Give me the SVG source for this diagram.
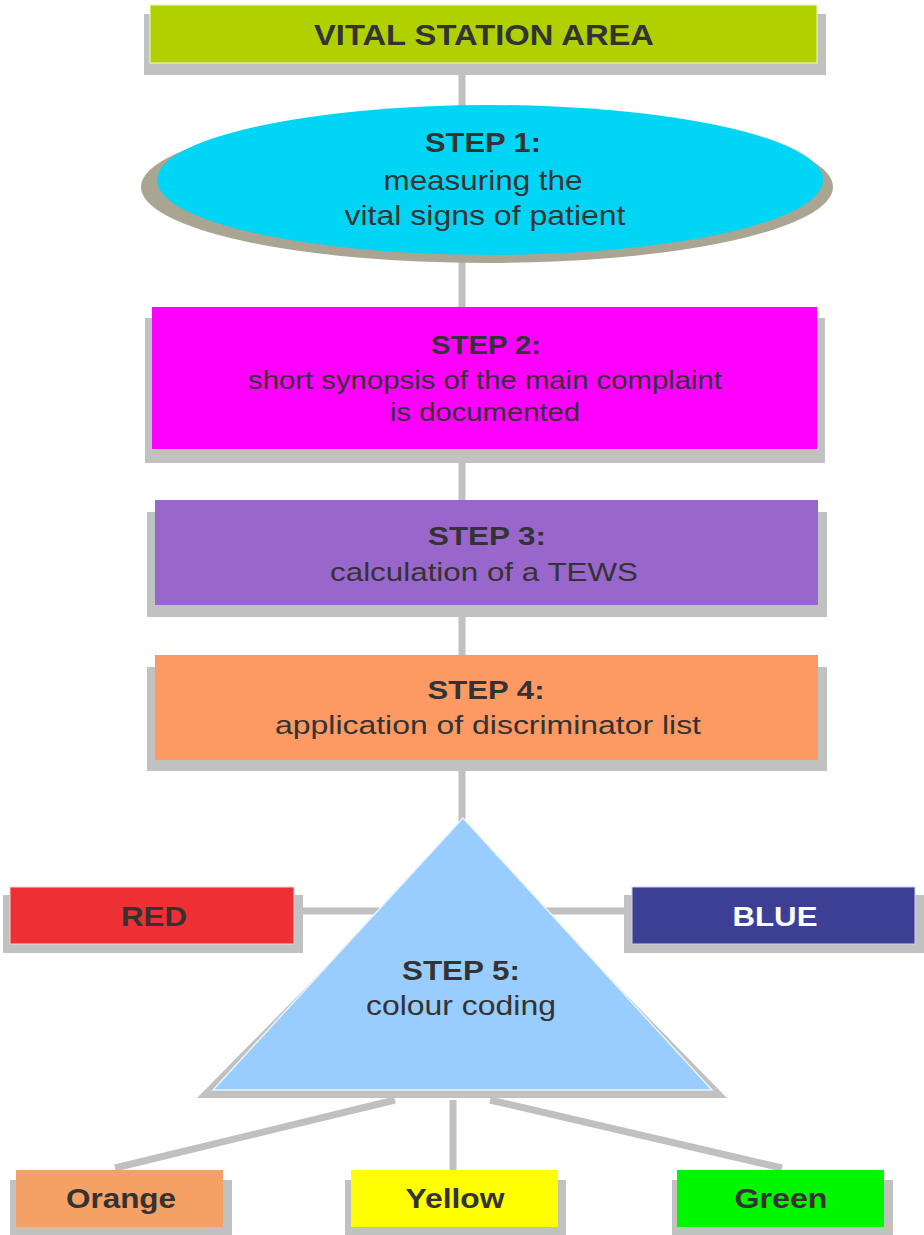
<svg xmlns="http://www.w3.org/2000/svg" width="924" height="1235" viewBox="0 0 924 1235">
<style>
.sh{fill:#c0c2c2}
.t{font-family:"Liberation Sans",Arial,sans-serif;fill:#333333;text-anchor:middle}
.b{font-weight:bold}
.c{stroke:#c0c0c0;stroke-width:7;fill:none}
</style>
<rect width="924" height="1235" fill="#ffffff"/>
<g id="connectors">
<line class="c" x1="462" y1="60" x2="462" y2="830"/>
<line class="c" x1="296" y1="911" x2="390" y2="911"/>
<line class="c" x1="535" y1="911" x2="632" y2="911"/>
<line class="c" x1="395" y1="1100" x2="115" y2="1168" stroke-width="8"/>
<line class="c" x1="453" y1="1100" x2="453" y2="1170"/>
<line class="c" x1="490" y1="1100" x2="782" y2="1168" stroke-width="8"/>
</g>
<g id="vital-station">
<rect class="sh" x="144" y="14" width="682" height="61"/>
<rect x="150" y="5" width="667" height="58" fill="#b1d000" stroke="#f4f8d0" stroke-width="1"/>
<text class="t b" x="484" y="45" font-size="30" textLength="340" lengthAdjust="spacingAndGlyphs">VITAL STATION  AREA</text>
</g>
<g id="step1">
<ellipse cx="487" cy="187" rx="346" ry="76" fill="#a9a592"/>
<ellipse cx="490" cy="180" rx="333" ry="75" fill="#00d5f5"/>
<text class="t b" x="483" y="152" font-size="28" textLength="116" lengthAdjust="spacingAndGlyphs">STEP 1:</text>
<text class="t" x="483" y="190" font-size="28" textLength="199" lengthAdjust="spacingAndGlyphs">measuring the</text>
<text class="t" x="485" y="225" font-size="28" textLength="281" lengthAdjust="spacingAndGlyphs">vital signs of patient</text>
</g>
<g id="step2">
<rect class="sh" x="145" y="318" width="680" height="145"/>
<rect x="152" y="307" width="665" height="142" fill="#ff00ff"/>
<text class="t b" x="486" y="354" font-size="26" textLength="110" lengthAdjust="spacingAndGlyphs">STEP 2:</text>
<text class="t" x="485" y="389" font-size="26" textLength="474" lengthAdjust="spacingAndGlyphs">short synopsis of the main complaint</text>
<text class="t" x="485" y="421" font-size="26" textLength="190" lengthAdjust="spacingAndGlyphs">is documented</text>
</g>
<g id="step3">
<rect class="sh" x="147" y="512" width="680" height="105"/>
<rect x="155" y="500" width="663" height="105" fill="#9966cc"/>
<text class="t b" x="487" y="545" font-size="26" textLength="118" lengthAdjust="spacingAndGlyphs">STEP 3:</text>
<text class="t" x="484" y="581" font-size="26" textLength="308" lengthAdjust="spacingAndGlyphs">calculation of a TEWS</text>
</g>
<g id="step4">
<rect class="sh" x="147" y="667" width="680" height="104"/>
<rect x="155" y="655" width="663" height="105" fill="#fd9a64"/>
<text class="t b" x="486" y="699" font-size="26" textLength="117" lengthAdjust="spacingAndGlyphs">STEP 4:</text>
<text class="t" x="488" y="734" font-size="26" textLength="426" lengthAdjust="spacingAndGlyphs">application of discriminator list</text>
</g>
<g id="step5">
<polygon points="463,828 197,1098 727,1098" fill="#c0c2c2"/>
<polygon points="463,818 213,1090 712,1090" fill="#99ccff" stroke="#e6f2ff" stroke-width="1.5"/>
<text class="t b" x="461" y="980" font-size="27" textLength="118" lengthAdjust="spacingAndGlyphs">STEP 5:</text>
<text class="t" x="461" y="1015" font-size="27" textLength="190" lengthAdjust="spacingAndGlyphs">colour coding</text>
</g>
<g id="red">
<rect class="sh" x="3" y="895" width="300" height="58"/>
<rect x="10" y="887" width="284" height="57" fill="#ee3035" stroke="#f8d0d0" stroke-width="1"/>
<text class="t b" x="154" y="926" font-size="28" textLength="66" lengthAdjust="spacingAndGlyphs">RED</text>
</g>
<g id="blue">
<rect class="sh" x="624" y="895" width="300" height="58"/>
<rect x="632" y="887" width="283" height="57" fill="#3c3f94" stroke="#d0d0e8" stroke-width="1"/>
<text class="t b" x="775" y="926" font-size="28" fill="#ffffff" style="fill:#ffffff" textLength="85" lengthAdjust="spacingAndGlyphs">BLUE</text>
</g>
<g id="orange">
<rect class="sh" x="10" y="1180" width="222" height="55"/>
<rect x="16" y="1170" width="207" height="57" fill="#f5a064"/>
<text class="t b" x="121" y="1208" font-size="28" textLength="110" lengthAdjust="spacingAndGlyphs">Orange</text>
</g>
<g id="yellow">
<rect class="sh" x="345" y="1180" width="221" height="55"/>
<rect x="351" y="1170" width="207" height="57" fill="#ffff00"/>
<text class="t b" x="455" y="1208" font-size="28" textLength="99" lengthAdjust="spacingAndGlyphs">Yellow</text>
</g>
<g id="green">
<rect class="sh" x="672" y="1180" width="221" height="55"/>
<rect x="677" y="1170" width="207" height="57" fill="#00f700"/>
<text class="t b" x="781" y="1208" font-size="28" textLength="93" lengthAdjust="spacingAndGlyphs">Green</text>
</g>
</svg>
